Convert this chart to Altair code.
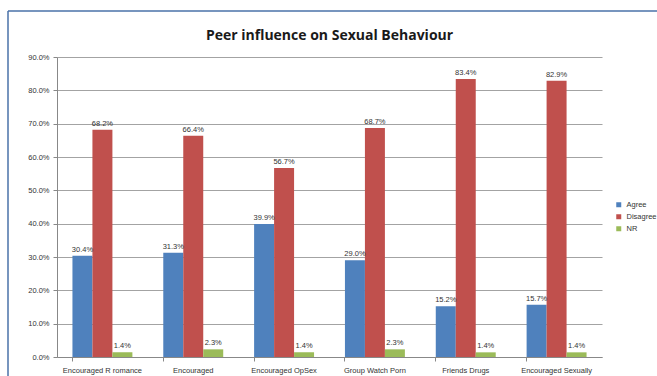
import altair as alt
import pandas as pd

categories = ["Encouraged R romance", "Encouraged", "Encouraged OpSex",
              "Group Watch Porn", "Friends Drugs", "Encouraged Sexually"]
series = ["Agree", "Disagree", "NR"]
agree = [30.4, 31.3, 39.9, 29.0, 15.2, 15.7]
disagree = [68.2, 66.4, 56.7, 68.7, 83.4, 82.9]
nr = [1.4, 2.3, 1.4, 2.3, 1.4, 1.4]
y_ticks = [0.0, 0.1, 0.2, 0.3, 0.4, 0.5, 0.6, 0.7, 0.8, 0.9]
colors = ["#4F81BD", "#C0504D", "#9BBB59"]

rows = []
for i, c in enumerate(categories):
    for s, vals in zip(series, [agree, disagree, nr]):
        rows.append({"cat": c, "series": s, "value": vals[i] / 100,
                     "label": f"{vals[i]:.1f}%"})
df = pd.DataFrame(rows)

W, H = 545, 300
font = "Liberation Sans"

x = alt.X("cat:N", sort=categories, title=None,
          scale=alt.Scale(paddingInner=0.34, paddingOuter=0.17),
          axis=alt.Axis(labelAngle=0, labelFontSize=7.5, labelColor="#333333",
                        labelFont=font, domainColor="#888888", tickColor="#888888",
                        tickSize=4, labelPadding=5, bandPosition=0))
xo = alt.XOffset("series:N", sort=series, scale=alt.Scale(paddingInner=0, paddingOuter=0))
y = alt.Y("value:Q", title=None,
          scale=alt.Scale(domain=[0, 0.9], nice=False, zero=True),
          axis=alt.Axis(format=".1%", values=y_ticks, tickCount=10,
                        labelFontSize=7.5, labelColor="#333333", labelFont=font,
                        gridColor="#8c8c8c", gridWidth=0.8, domainColor="#888888",
                        tickColor="#888888", tickSize=4, labelPadding=4,
                        labelOverlap=False))

bars = alt.Chart(df).mark_bar().encode(
    x=x, xOffset=xo, y=y,
    color=alt.Color("series:N", sort=series,
                    scale=alt.Scale(domain=series, range=colors),
                    legend=alt.Legend(title=None, orient="none", legendX=558, legendY=144,
                                      symbolType="square", symbolSize=25,
                                      labelFontSize=7.5, labelFont=font,
                                      labelColor="#333333", rowPadding=3,
                                      symbolStrokeWidth=0))
)

texts = alt.Chart(df).mark_text(dy=-6, fontSize=7.5, font=font, color="#333333").encode(
    x=x, xOffset=xo, y=y, text="label:N"
)

frame_top = alt.Chart(pd.DataFrame({"a": [0]})).mark_rule(
    color="#4a72a8", strokeWidth=1.5, clip=False).encode(
    x=alt.value(-49), x2=alt.value(620), y=alt.value(-46))
frame_left = alt.Chart(pd.DataFrame({"a": [0]})).mark_rule(
    color="#4a72a8", strokeWidth=1.5, clip=False).encode(
    x=alt.value(-49), y=alt.value(-46), y2=alt.value(330))

chart = alt.layer(frame_top, frame_left, bars, texts).properties(
    width=W, height=H,
    title=alt.TitleParams("Peer influence on Sexual Behaviour", fontSize=14,
                          font="Open Sans", fontWeight="bold", color="#1a1a1a",
                          anchor="middle", offset=-33),
    padding={"left": 57, "top": 57, "right": 55, "bottom": 19},
    autosize=alt.AutoSizeParams(type="none"),
).configure_view(stroke=None).configure_axisY(domain=True)

chart.save("out.html", embed_options={"renderer": "svg", "actions": False})
